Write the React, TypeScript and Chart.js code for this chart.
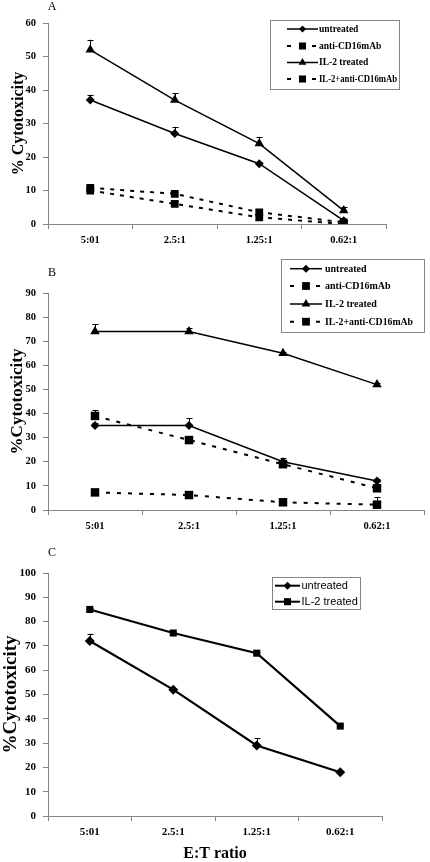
import React, { useEffect, useRef } from 'react';
import { Chart, registerables } from 'chart.js';

Chart.register(...registerables);

// ---------- data ----------
const ratioLabels = ['5:01', '2.5:1', '1.25:1', '0.62:1'];

// Panel A
const aUntreated = [37, 27, 18, 1];
const aUntreatedErr = [1.6, 2, 0.5, 0.3];
const aAntiCD16 = [10.8, 9, 3.5, 0.5];
const aAntiCD16Err = [1, 0.5, 0.5, 0];
const aIL2 = [52, 37, 24, 4];
const aIL2Err = [3, 2, 2, 1.2];
const aIL2Anti = [10, 6, 2, 0];
const aIL2AntiErr = [0.5, 1, 0.5, 0];

// Panel B
const bUntreated = [35, 35, 20, 12];
const bUntreatedErr = [1, 3, 1.5, 1];
const bAntiCD16 = [39, 29, 19, 9];
const bAntiCD16Err = [2.5, 0.5, 1, 0.5];
const bIL2 = [74, 74, 65, 52];
const bIL2Err = [3, 1.5, 0.5, 0.5];
const bIL2Anti = [7.3, 6.2, 3.2, 2.2];
const bIL2AntiErr = [0.5, 0.5, 0.5, 3];

// Panel C
const cUntreated = [72, 52, 29, 18];
const cUntreatedErr = [3, 0.5, 3, 0.5];
const cIL2 = [85, 75.3, 67, 37];
const cIL2Err = [0.5, 0.5, 0.5, 0.5];

const AXIS = '#868686';
const SERIF = '"Liberation Serif", "Times New Roman", serif';
const SANS = '"Liberation Sans", Arial, sans-serif';

// ---------- helpers ----------
function markerPath(ctx: CanvasRenderingContext2D, style: string, x: number, y: number, r: number) {
  ctx.beginPath();
  if (style === 'rectRot') {
    ctx.moveTo(x - r, y);
    ctx.lineTo(x, y - r);
    ctx.lineTo(x + r, y);
    ctx.lineTo(x, y + r);
  } else if (style === 'rect') {
    const s = r * Math.SQRT1_2;
    ctx.rect(x - s, y - s, 2 * s, 2 * s);
  } else {
    let rad = 0;
    const step = (2 * Math.PI) / 3;
    ctx.moveTo(x + Math.sin(rad) * r, y - Math.cos(rad) * r);
    rad += step;
    ctx.lineTo(x + Math.sin(rad) * r, y - Math.cos(rad) * r);
    rad += step;
    ctx.lineTo(x + Math.sin(rad) * r, y - Math.cos(rad) * r);
  }
  ctx.closePath();
  ctx.fillStyle = '#000';
  ctx.fill();
}

const errorBarPlugin = {
  id: 'errorBars',
  beforeDatasetsDraw(chart: any) {
    const ctx = chart.ctx as CanvasRenderingContext2D;
    const yScale = chart.scales.y;
    ctx.save();
    ctx.strokeStyle = '#000';
    ctx.lineWidth = 1;
    chart.data.datasets.forEach((ds: any, di: number) => {
      const meta = chart.getDatasetMeta(di);
      const errs: number[] = ds.errors || [];
      meta.data.forEach((pt: any, i: number) => {
        const e = errs[i] || 0;
        if (e <= 0) return;
        const v = ds.data[i];
        const y0 = yScale.getPixelForValue(v);
        const y1 = yScale.getPixelForValue(v + e);
        const x = Math.round(pt.x) + 0.5;
        ctx.beginPath();
        ctx.moveTo(x, y0);
        ctx.lineTo(x, y1);
        ctx.moveTo(x - 3, Math.round(y1) + 0.5);
        ctx.lineTo(x + 3, Math.round(y1) + 0.5);
        ctx.stroke();
      });
    });
    ctx.restore();
  },
};

const overlayPlugin = {
  id: 'overlay',
  afterDraw(chart: any) {
    const o = chart.options.plugins.overlay;
    if (!o) return;
    const ctx = chart.ctx as CanvasRenderingContext2D;
    ctx.save();
    // panel letter
    ctx.fillStyle = '#000';
    ctx.font = `12px ${SERIF}`;
    ctx.textAlign = 'center';
    ctx.textBaseline = 'middle';
    ctx.fillText(o.letter, o.letterX, o.letterY);
    // legend
    const L = o.legend;
    ctx.strokeStyle = AXIS;
    ctx.lineWidth = 1;
    ctx.strokeRect(L.x + 0.5, L.y + 0.5, L.w, L.h);
    ctx.font = L.font;
    ctx.textAlign = 'left';
    ctx.textBaseline = 'middle';
    L.items.forEach((it: any, i: number) => {
      const y = L.rows[i];
      const mid = (L.x0 + L.x1) / 2;
      ctx.strokeStyle = '#000';
      if (it.dashed) {
        ctx.lineWidth = 2;
        ctx.beginPath();
        ctx.moveTo(L.x0, y);
        ctx.lineTo(L.x0 + 4, y);
        ctx.moveTo(L.x1 - 6, y);
        ctx.lineTo(L.x1 - 2, y);
        ctx.stroke();
      } else {
        ctx.lineWidth = L.lineWidth;
        ctx.beginPath();
        ctx.moveTo(L.x0, y);
        ctx.lineTo(L.x1, y);
        ctx.stroke();
      }
      markerPath(ctx, it.style, mid, y, it.r);
      ctx.fillStyle = '#000';
      ctx.fillText(it.label, L.textX, y + 0.5, L.maxText);
    });
    ctx.restore();
  },
};

type Series = { label: string; data: number[]; errors: number[]; style: string; r: number; dashed: boolean; lw: number };

type Spec = {
  series: Series[];
  dash: number[];
  yMax: number;
  padTop: number;
  padRight: number;
  xHeight: number;
  yTitle: string;
  yTitleSize: number;
  yTitlePad: number;
  tickSize: number;
  xTitle?: string;
  overlay: any;
};

function makeConfig(p: Spec): any {
  const tickFont = { family: SERIF, weight: 'bold', size: p.tickSize };
  return {
    type: 'line',
    data: {
      labels: ratioLabels,
      datasets: p.series.map((s) => ({
        label: s.label,
        data: s.data,
        errors: s.errors,
        borderColor: '#000',
        backgroundColor: '#000',
        borderWidth: s.lw,
        borderDash: s.dashed ? p.dash : [],
        pointStyle: s.style,
        pointRadius: s.r,
        pointHoverRadius: s.r,
        pointBackgroundColor: '#000',
        pointBorderColor: '#000',
        pointBorderWidth: 0,
        tension: 0,
        fill: false,
      })),
    },
    options: {
      responsive: false,
      animation: false,
      devicePixelRatio: 1,
      events: [],
      layout: { padding: { top: p.padTop, right: p.padRight, left: 0, bottom: 0 } },
      plugins: {
        legend: { display: false },
        tooltip: { enabled: false },
        overlay: p.overlay,
      },
      scales: {
        x: {
          type: 'category',
          offset: true,
          grid: { offset: true, drawOnChartArea: false, drawTicks: true, tickLength: 5, color: AXIS },
          border: { color: AXIS, width: 1 },
          ticks: { font: tickFont, color: '#000', padding: 5, maxRotation: 0, autoSkip: false },
          title: p.xTitle
            ? { display: true, text: p.xTitle, color: '#000', font: { family: SERIF, weight: 'bold', size: 16, lineHeight: 1 }, padding: 0 }
            : { display: false },
          afterFit: (s: any) => {
            s.height = p.xHeight;
          },
        },
        y: {
          min: 0,
          max: p.yMax,
          ticks: { stepSize: 10, font: tickFont, color: '#000', padding: 7 },
          grid: { drawOnChartArea: false, drawTicks: true, tickLength: 5, color: AXIS },
          border: { color: AXIS, width: 1 },
          title: {
            display: true,
            text: p.yTitle,
            color: '#000',
            font: { family: SERIF, weight: 'bold', size: p.yTitleSize, lineHeight: 1.2 },
            padding: { top: p.yTitlePad, bottom: 0 },
          },
          afterFit: (s: any) => {
            s.width = 48;
          },
        },
      },
    },
    plugins: [errorBarPlugin, overlayPlugin],
  };
}

const specA: Spec = {
  series: [
    { label: 'untreated', data: aUntreated, errors: aUntreatedErr, style: 'rectRot', r: 4.5, dashed: false, lw: 1.5 },
    { label: 'anti-CD16mAb', data: aAntiCD16, errors: aAntiCD16Err, style: 'rect', r: 5.5, dashed: true, lw: 2 },
    { label: 'IL-2 treated', data: aIL2, errors: aIL2Err, style: 'triangle', r: 5.5, dashed: false, lw: 1.5 },
    { label: 'IL-2+anti-CD16mAb', data: aIL2Anti, errors: aIL2AntiErr, style: 'rect', r: 5.5, dashed: true, lw: 2 },
  ],
  dash: [4, 6],
  yMax: 60,
  padTop: 23,
  padRight: 44,
  xHeight: 26,
  yTitle: '% Cytotoxicity',
  yTitleSize: 16,
  yTitlePad: 9,
  tickSize: 10.5,
  overlay: {
    letter: 'A',
    letterX: 52,
    letterY: 7,
    legend: {
      x: 270,
      y: 20,
      w: 129,
      h: 69,
      rows: [29, 46, 62.5, 79],
      x0: 287,
      x1: 318,
      textX: 319,
      maxText: 78,
      lineWidth: 1.5,
      font: `bold 9.5px ${SERIF}`,
      items: [
        { label: 'untreated', style: 'rectRot', r: 3.5, dashed: false },
        { label: 'anti-CD16mAb', style: 'rect', r: 5, dashed: true },
        { label: 'IL-2 treated', style: 'triangle', r: 4.5, dashed: false },
        { label: 'IL-2+anti-CD16mAb', style: 'rect', r: 5, dashed: true },
      ],
    },
  },
};

const specB: Spec = {
  series: [
    { label: 'untreated', data: bUntreated, errors: bUntreatedErr, style: 'rectRot', r: 4.5, dashed: false, lw: 1.5 },
    { label: 'anti-CD16mAb', data: bAntiCD16, errors: bAntiCD16Err, style: 'rect', r: 6, dashed: true, lw: 2 },
    { label: 'IL-2 treated', data: bIL2, errors: bIL2Err, style: 'triangle', r: 5.5, dashed: false, lw: 1.5 },
    { label: 'IL-2+anti-CD16mAb', data: bIL2Anti, errors: bIL2AntiErr, style: 'rect', r: 6, dashed: true, lw: 2 },
  ],
  dash: [4, 7],
  yMax: 90,
  padTop: 43,
  padRight: 4,
  xHeight: 35,
  yTitle: '%Cytotoxicity',
  yTitleSize: 17,
  yTitlePad: 7,
  tickSize: 10.5,
  overlay: {
    letter: 'B',
    letterX: 52,
    letterY: 23,
    legend: {
      x: 281,
      y: 9,
      w: 143,
      h: 73,
      rows: [18.7, 36, 54, 71.7],
      x0: 290,
      x1: 322,
      textX: 325,
      maxText: 88,
      lineWidth: 1.5,
      font: `bold 10px ${SERIF}`,
      items: [
        { label: 'untreated', style: 'rectRot', r: 4, dashed: false },
        { label: 'anti-CD16mAb', style: 'rect', r: 5.5, dashed: true },
        { label: 'IL-2 treated', style: 'triangle', r: 5, dashed: false },
        { label: 'IL-2+anti-CD16mAb', style: 'rect', r: 5.5, dashed: true },
      ],
    },
  },
};

const specC: Spec = {
  series: [
    { label: 'untreated', data: cUntreated, errors: cUntreatedErr, style: 'rectRot', r: 5, dashed: false, lw: 2.2 },
    { label: 'IL-2 treated', data: cIL2, errors: cIL2Err, style: 'rect', r: 5, dashed: false, lw: 2.2 },
  ],
  dash: [],
  yMax: 100,
  padTop: 28,
  padRight: 48,
  xHeight: 46,
  yTitle: '%Cytotoxicity',
  yTitleSize: 19,
  yTitlePad: 0,
  tickSize: 11,
  xTitle: 'E:T ratio',
  overlay: {
    letter: 'C',
    letterX: 52,
    letterY: 8,
    legend: {
      x: 272,
      y: 32,
      w: 88,
      h: 32,
      rows: [40.7, 56.7],
      x0: 275,
      x1: 300,
      textX: 301.5,
      maxText: 58,
      lineWidth: 2,
      font: `11px ${SANS}`,
      items: [
        { label: 'untreated', style: 'rectRot', r: 4, dashed: false },
        { label: 'IL-2 treated', style: 'rect', r: 5, dashed: false },
      ],
    },
  },
};

function Panel({ spec, top, height }: { spec: Spec; top: number; height: number }) {
  const ref = useRef<HTMLCanvasElement>(null);
  useEffect(() => {
    const chart = new Chart(ref.current as HTMLCanvasElement, makeConfig(spec));
    return () => chart.destroy();
  }, []);
  return (
    <canvas
      ref={ref}
      width={430}
      height={height}
      style={{ position: 'absolute', left: 0, top, width: 430, height, display: 'block' }}
    />
  );
}

export default function App() {
  return (
    <div style={{ position: 'absolute', left: 0, top: 0, width: 430, height: 862, background: '#fff', overflow: 'hidden' }}>
      <Panel spec={specA} top={0} height={250} />
      <Panel spec={specB} top={250} height={295} />
      <Panel spec={specC} top={545} height={317} />
    </div>
  );
}
